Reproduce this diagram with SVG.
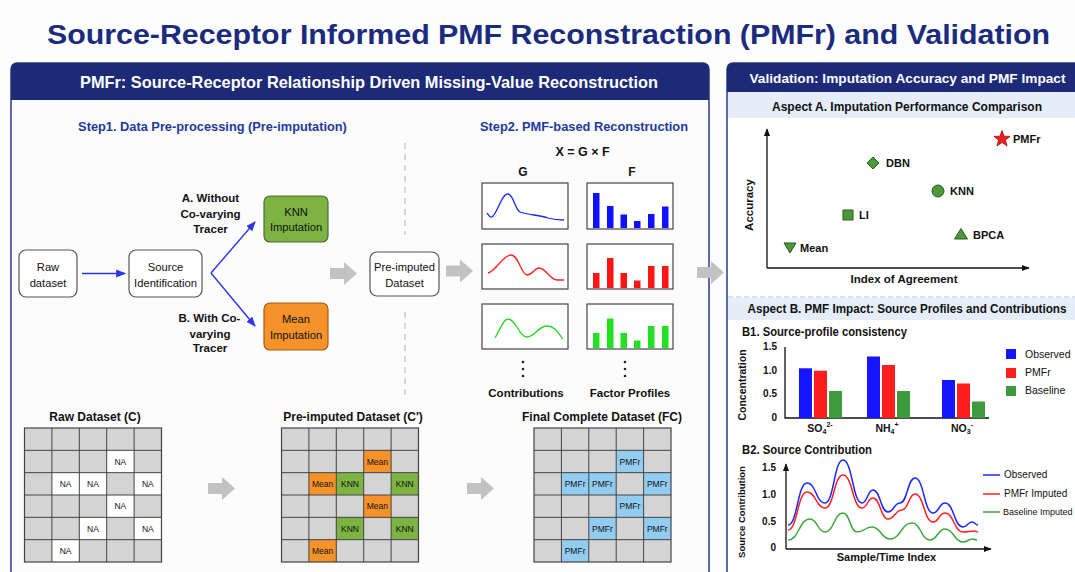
<svg xmlns="http://www.w3.org/2000/svg" xmlns:xlink="http://www.w3.org/1999/xlink" width="1075" height="572" viewBox="0 0 1075 572">
<style>
text{font-family:"Liberation Sans",Arial,sans-serif;fill:#111}
.b{font-weight:bold}
.title{font-size:27px;font-weight:bold;fill:#1b2b7e}
.hdr{font-weight:bold;fill:#fff}
.step{font-size:12.8px;font-weight:bold;fill:#23399a}
.box{fill:#fff;stroke:#555;stroke-width:1.2}
.bt{font-size:11.2px;text-anchor:middle}
.lbl{font-size:11.5px;font-weight:bold;text-anchor:middle}
.garrow{fill:#c2c2c2}
.conn{stroke:#2a35e8;stroke-width:1.4;fill:none}
.frame{fill:#fff;stroke:#444;stroke-width:1.2}
.cell{font-size:8.5px;text-anchor:middle}
.gt{font-size:12px;font-weight:bold;text-anchor:middle}
.axis{stroke:#111;stroke-width:1.3;fill:none}
.tick{font-size:10px;font-weight:bold;text-anchor:end}
.pt{font-size:11px;font-weight:bold}
.mk{fill:#4a9a3a;stroke:#2c5a1e;stroke-width:1}
</style>
<defs>
<marker id="ab" viewBox="0 0 10 10" refX="9" refY="5" markerWidth="7" markerHeight="7" orient="auto-start-reverse"><path d="M0,1 L10,5 L0,9 Z" fill="#2a35e8"/></marker>
<marker id="ak" viewBox="0 0 10 10" refX="9" refY="5" markerWidth="6" markerHeight="6" orient="auto-start-reverse"><path d="M0,1 L10,5 L0,9 Z" fill="#111"/></marker>
<path id="blk" d="M0,6 L14,6 L14,0 L27,11.5 L14,23 L14,17 L0,17 Z"/>
<g id="gl">
<rect x="0" y="0" width="137" height="134" fill="none" stroke="#444" stroke-width="1.2"/>
<path d="M27.4,0V134M54.8,0V134M82.2,0V134M109.6,0V134M0,22.33H137M0,44.67H137M0,67H137M0,89.33H137M0,111.67H137" stroke="#444" stroke-width="1"/>
</g>
</defs>
<rect width="1075" height="572" fill="#fdfdfd"/>
<text class="title" x="548.5" y="44" text-anchor="middle" textLength="1003" lengthAdjust="spacingAndGlyphs">Source-Receptor Informed PMF Reconstraction (PMFr) and Validation</text>

<!-- Left panel -->
<g id="left-panel">
<rect x="11" y="63" width="698" height="540" rx="6" fill="#fcfcfd" stroke="#2a3a8a" stroke-width="1.5"/>
<path d="M11,100 V69 Q11,63 17,63 H703 Q709,63 709,69 V100 Z" fill="#1c2a78"/>
<text class="hdr" x="369" y="88" font-size="17" text-anchor="middle" textLength="578" lengthAdjust="spacingAndGlyphs">PMFr: Source-Receptor Relationship Driven Missing-Value Reconstruction</text>
<text class="step" x="212.5" y="131" text-anchor="middle">Step1. Data Pre-processing (Pre-imputation)</text>
<text class="step" x="584" y="131" text-anchor="middle" textLength="208" lengthAdjust="spacingAndGlyphs">Step2. PMF-based Reconstruction</text>
<path d="M405,143 V235 M405,312 V397" stroke="#bdbdbd" stroke-width="1.2" stroke-dasharray="6 5"/>
</g>

<g id="raw-dataset"><rect class="box" x="19" y="250" width="58" height="47" rx="7"/><text class="bt" x="48" y="271">Raw</text><text class="bt" x="48" y="287">dataset</text></g>
<g id="source-identification"><rect class="box" x="129" y="250" width="73" height="47" rx="7"/><text class="bt" x="165.5" y="271">Source</text><text class="bt" x="165.5" y="287">Identification</text></g>
<g id="knn-imputation"><rect x="264" y="196" width="64" height="46" rx="6" fill="#7cb342" stroke="#4a6b2a" stroke-width="1.2"/><text class="bt" x="296" y="216">KNN</text><text class="bt" x="296" y="231">Imputation</text></g>
<g id="mean-imputation"><rect x="264" y="303" width="64" height="47" rx="6" fill="#f5922a" stroke="#a85a12" stroke-width="1.2"/><text class="bt" x="296" y="323">Mean</text><text class="bt" x="296" y="339">Imputation</text></g>
<g id="pre-imputed-dataset"><rect class="box" x="370" y="252" width="69" height="44" rx="7"/><text class="bt" x="404.5" y="271">Pre-imputed</text><text class="bt" x="404.5" y="287">Dataset</text></g>

<g id="branch-labels">
<text class="lbl" x="210.5" y="202">A. Without</text><text class="lbl" x="210.5" y="218">Co-varying</text><text class="lbl" x="210.5" y="233">Tracer</text>
<text class="lbl" x="209.5" y="322">B. With Co-</text><text class="lbl" x="210" y="338">varying</text><text class="lbl" x="210" y="352">Tracer</text>
</g>

<g id="connectors">
<path class="conn" d="M82,273.5 H125" marker-end="url(#ab)"/>
<path class="conn" d="M211,273 L255,222" marker-end="url(#ab)"/>
<path class="conn" d="M211,273 L255,326" marker-end="url(#ab)"/>
<use href="#blk" class="garrow" x="330" y="262"/>
<use href="#blk" class="garrow" x="446" y="259.5"/>
<use href="#blk" class="garrow" x="697" y="261"/>
<use href="#blk" class="garrow" x="208" y="477"/>
<use href="#blk" class="garrow" x="467" y="477"/>
</g>

<!-- PMF matrices -->
<g id="pmf">
<text class="b" x="582.5" y="156" font-size="12.5" text-anchor="middle">X = G × F</text>
<text class="b" x="523" y="176" font-size="12" text-anchor="middle">G</text>
<text class="b" x="632" y="176" font-size="12" text-anchor="middle">F</text>
<rect class="frame" x="482" y="183" width="86" height="46"/>
<rect class="frame" x="482" y="244" width="86" height="45"/>
<rect class="frame" x="482" y="304" width="86" height="45"/>
<rect class="frame" x="587" y="183" width="86" height="46"/>
<rect class="frame" x="587" y="244" width="86" height="45"/>
<rect class="frame" x="587" y="304" width="86" height="45"/>
<path d="M487,213 C489,216 490,218 492,217 C497,214 502,193 508,194 C514,195 515,210 520,212 C528,215 540,215 548,218 C555,220 560,220 564,220" fill="none" stroke="#1a2aff" stroke-width="1.3"/>
<path d="M488,273 C495,272 503,255 511,255 C519,255 521,275 527,275 C533,275 534,268 539,268 C546,268 550,280 557,280 L564,280" fill="none" stroke="#ff2020" stroke-width="1.3"/>
<path d="M495,338 C500,330 503,319 508,319 C516,319 519,337 527,337 C535,337 538,326 547,326 C555,326 559,334 563,339" fill="none" stroke="#22dd22" stroke-width="1.3"/>
<g fill="#1010ff">
<rect x="593" y="193" width="6.5" height="35"/><rect x="607" y="206" width="6.5" height="22"/><rect x="620.5" y="214.5" width="6.5" height="13.5"/><rect x="634" y="221" width="6.5" height="7"/><rect x="648" y="214" width="6.5" height="14"/><rect x="662" y="206.5" width="6.5" height="21.5"/>
</g>
<g fill="#ff1414">
<rect x="593" y="273" width="6.5" height="15"/><rect x="607" y="258" width="6.5" height="30"/><rect x="620.5" y="273" width="6.5" height="15"/><rect x="634" y="280.5" width="6.5" height="7.5"/><rect x="648" y="266" width="6.5" height="22"/><rect x="662" y="266" width="6.5" height="22"/>
</g>
<g fill="#22e022">
<rect x="593" y="333" width="6.5" height="15"/><rect x="607" y="318.5" width="6.5" height="29.5"/><rect x="620.5" y="333" width="6.5" height="15"/><rect x="634" y="340.5" width="6.5" height="7.5"/><rect x="648" y="326" width="6.5" height="22"/><rect x="662" y="326" width="6.5" height="22"/>
</g>
<g fill="#222"><circle cx="523" cy="362" r="1.3"/><circle cx="523" cy="369" r="1.3"/><circle cx="523" cy="376" r="1.3"/><circle cx="625" cy="362" r="1.3"/><circle cx="625" cy="369" r="1.3"/><circle cx="625" cy="376" r="1.3"/></g>
<text class="b" x="526" y="397" font-size="11.5" text-anchor="middle">Contributions</text>
<text class="b" x="630" y="397" font-size="11.5" text-anchor="middle">Factor Profiles</text>
</g>

<!-- Bottom grids -->
<g id="raw-grid">
<text class="gt" x="95" y="421">Raw Dataset (C)</text>
<g transform="translate(24.5,428)">
<rect width="137" height="134" fill="#d4d4d4"/>
<g fill="#fff"><rect x="82.2" y="22.33" width="27.4" height="22.33"/><rect x="27.4" y="44.67" width="27.4" height="22.33"/><rect x="54.8" y="44.67" width="27.4" height="22.33"/><rect x="109.6" y="44.67" width="27.4" height="22.33"/><rect x="82.2" y="67" width="27.4" height="22.33"/><rect x="54.8" y="89.33" width="27.4" height="22.33"/><rect x="109.6" y="89.33" width="27.4" height="22.33"/><rect x="27.4" y="111.67" width="27.4" height="22.33"/></g>
<use href="#gl"/>
<text x="95.9" y="36.5" class="cell">NA</text><text x="41.1" y="58.8" class="cell">NA</text><text x="68.5" y="58.8" class="cell">NA</text><text x="123.3" y="58.8" class="cell">NA</text><text x="95.9" y="81.2" class="cell">NA</text><text x="68.5" y="103.5" class="cell">NA</text><text x="123.3" y="103.5" class="cell">NA</text><text x="41.1" y="125.8" class="cell">NA</text>
</g>
</g>

<g id="preimputed-grid">
<text class="gt" x="353" y="421">Pre-imputed Dataset (C')</text>
<g transform="translate(281.5,428)">
<rect width="137" height="134" fill="#d4d4d4"/>
<g fill="#f5922a"><rect x="82.2" y="22.33" width="27.4" height="22.33"/><rect x="27.4" y="44.67" width="27.4" height="22.33"/><rect x="82.2" y="67" width="27.4" height="22.33"/><rect x="27.4" y="111.67" width="27.4" height="22.33"/></g>
<g fill="#7cb342"><rect x="54.8" y="44.67" width="27.4" height="22.33"/><rect x="109.6" y="44.67" width="27.4" height="22.33"/><rect x="54.8" y="89.33" width="27.4" height="22.33"/><rect x="109.6" y="89.33" width="27.4" height="22.33"/></g>
<use href="#gl"/>
<text x="95.9" y="36.5" class="cell">Mean</text><text x="41.1" y="58.8" class="cell">Mean</text><text x="68.5" y="58.8" class="cell">KNN</text><text x="123.3" y="58.8" class="cell">KNN</text><text x="95.9" y="81.2" class="cell">Mean</text><text x="68.5" y="103.5" class="cell">KNN</text><text x="123.3" y="103.5" class="cell">KNN</text><text x="41.1" y="125.8" class="cell">Mean</text>
</g>
</g>

<g id="final-grid">
<text class="gt" x="602" y="421">Final Complete Dataset (FC)</text>
<g transform="translate(534,428)">
<rect width="137" height="134" fill="#d4d4d4"/>
<g fill="#92ccf0"><rect x="82.2" y="22.33" width="27.4" height="22.33"/><rect x="27.4" y="44.67" width="27.4" height="22.33"/><rect x="54.8" y="44.67" width="27.4" height="22.33"/><rect x="109.6" y="44.67" width="27.4" height="22.33"/><rect x="82.2" y="67" width="27.4" height="22.33"/><rect x="54.8" y="89.33" width="27.4" height="22.33"/><rect x="109.6" y="89.33" width="27.4" height="22.33"/><rect x="27.4" y="111.67" width="27.4" height="22.33"/></g>
<use href="#gl"/>
<text x="95.9" y="36.5" class="cell">PMFr</text><text x="41.1" y="58.8" class="cell">PMFr</text><text x="68.5" y="58.8" class="cell">PMFr</text><text x="123.3" y="58.8" class="cell">PMFr</text><text x="95.9" y="81.2" class="cell">PMFr</text><text x="68.5" y="103.5" class="cell">PMFr</text><text x="123.3" y="103.5" class="cell">PMFr</text><text x="41.1" y="125.8" class="cell">PMFr</text>
</g>
</g>

<!-- Right panel -->
<g id="right-panel">
<rect x="727" y="63" width="400" height="540" rx="6" fill="#fff" stroke="#2a3a8a" stroke-width="1.5"/>
<path d="M727,92 V69 Q727,63 733,63 H1127 V92 Z" fill="#1c2a78"/>
<text class="hdr" x="907.5" y="83" font-size="13.6" text-anchor="middle" textLength="316" lengthAdjust="spacingAndGlyphs">Validation: Imputation Accuracy and PMF Impact</text>
<rect x="728" y="92" width="347" height="26" fill="#e4edf8"/>
<text class="b" x="907" y="111" font-size="12" text-anchor="middle" textLength="270" lengthAdjust="spacingAndGlyphs">Aspect A. Imputation Performance Comparison</text>
<path d="M728,297 H1075" stroke="#b7c7e0" stroke-width="1.2" stroke-dasharray="5 3"/>
<rect x="728" y="298" width="347" height="22" fill="#e4edf8"/>
<text class="b" x="907" y="313" font-size="12" text-anchor="middle" textLength="319" lengthAdjust="spacingAndGlyphs">Aspect B. PMF Impact: Source Profiles and Contributions</text>
</g>

<g id="scatter">
<path class="axis" d="M767,268 V129" marker-end="url(#ak)"/>
<path class="axis" d="M767,268 H1029" marker-end="url(#ak)"/>
<text class="b" font-size="11.5" text-anchor="middle" transform="translate(753,205) rotate(-90)">Accuracy</text>
<text class="b" x="904" y="283" font-size="11.5" text-anchor="middle">Index of Agreement</text>
<polygon points="1002,130.5 1004.1,136.2 1010.1,136.4 1005.4,140.1 1007,145.9 1002,142.5 997,145.9 998.6,140.1 993.9,136.4 999.9,136.2" fill="#e82020" stroke="#9a1010" stroke-width="0.8"/>
<text class="pt" x="1013" y="143">PMFr</text>
<polygon class="mk" points="873,157 879,163 873,169 867,163"/>
<text class="pt" x="886" y="167">DBN</text>
<circle class="mk" cx="938" cy="191" r="6"/>
<text class="pt" x="950" y="195">KNN</text>
<rect class="mk" x="843" y="210" width="10" height="10"/>
<text class="pt" x="859" y="219">LI</text>
<polygon class="mk" points="961,228.5 967.5,239 954.5,239"/>
<text class="pt" x="973" y="239">BPCA</text>
<polygon class="mk" points="784,243 796,243 790,253"/>
<text class="pt" x="800" y="252">Mean</text>
</g>

<g id="bar-chart">
<text class="b" x="742" y="336" font-size="12" textLength="165" lengthAdjust="spacingAndGlyphs">B1. Source-profile consistency</text>
<path class="axis" d="M785,347 V418 H989"/>
<text class="tick" x="777" y="350">1.5</text><text class="tick" x="777" y="374">1.0</text><text class="tick" x="777" y="397">0.5</text><text class="tick" x="777" y="421">0</text>
<text class="b" font-size="10.5" text-anchor="middle" transform="translate(746,385) rotate(-90)">Concentration</text>
<g fill="#1515ff"><rect x="799" y="368.3" width="13" height="49.7"/><rect x="867" y="356.5" width="13" height="61.5"/><rect x="942" y="380" width="13" height="38"/></g>
<g fill="#ff1e1e"><rect x="814" y="370.7" width="13" height="47.3"/><rect x="882" y="365" width="13" height="53"/><rect x="957" y="383.5" width="13" height="34.5"/></g>
<g fill="#3d9a3d"><rect x="829" y="391" width="13" height="27"/><rect x="897" y="391" width="13" height="27"/><rect x="972" y="401.5" width="13" height="16.5"/></g>
<text class="b" x="820" y="432" font-size="10.5" text-anchor="middle">SO<tspan font-size="7" dy="2">4</tspan><tspan font-size="7" dy="-7">2-</tspan></text>
<text class="b" x="887" y="432" font-size="10.5" text-anchor="middle">NH<tspan font-size="7" dy="2">4</tspan><tspan font-size="7" dy="-7">+</tspan></text>
<text class="b" x="962" y="432" font-size="10.5" text-anchor="middle">NO<tspan font-size="7" dy="2">3</tspan><tspan font-size="7" dy="-7">-</tspan></text>
<rect x="1006" y="349" width="10" height="10" fill="#1515ff"/><rect x="1006" y="368" width="10" height="10" fill="#ff1e1e"/><rect x="1006" y="386" width="10" height="10" fill="#3d9a3d"/>
<text x="1025" y="358" font-size="10.5">Observed</text><text x="1025" y="376" font-size="10.5">PMFr</text><text x="1025" y="394" font-size="10.5">Baseline</text>
</g>

<g id="line-chart">
<text class="b" x="742" y="454" font-size="12" textLength="130" lengthAdjust="spacingAndGlyphs">B2. Source Contribution</text>
<path class="axis" d="M786,549 V464" marker-end="url(#ak)"/>
<path class="axis" d="M786,549 H991" marker-end="url(#ak)"/>
<text class="tick" x="776" y="471">1.5</text><text class="tick" x="776" y="498">1.0</text><text class="tick" x="776" y="525">0.5</text><text class="tick" x="776" y="551">0</text>
<text class="b" font-size="9.5" text-anchor="middle" transform="translate(745,512) rotate(-90)">Source Contribution</text>
<text class="b" x="886.5" y="561" font-size="11" text-anchor="middle">Sample/Time Index</text>
<path d="M788,525 C797.5,525 797.5,483 807,483 C816,483 816,503 825,503 C834,503 834,460 843,460 C852.5,460 852.5,503 862,503 C867.5,503 867.5,490 873,490 C880.5,490 880.5,512 888,512 C894,512 894,503 900,503 C907.5,503 907.5,478 915,478 C924,478 924,513 933,513 C939,513 939,503 945,503 C954,503 954,527 963,527 C967.5,527 967.5,522 972,522 C975,522 975,525 978,525" fill="none" stroke="#1a2aff" stroke-width="1.5"/>
<path d="M788,530 C797.5,530 797.5,492 807,492 C816,492 816,508 825,508 C834,508 834,475 843,475 C852.5,475 852.5,508 862,508 C867.5,508 867.5,498 873,498 C880.5,498 880.5,519 888,519 C895,519 895,510 902,510 C908.5,510 908.5,494 915,494 C924,494 924,522 933,522 C939,522 939,513 945,513 C954,513 954,532 963,532 C969,532 969,531 975,531 C976.5,531 976.5,532 978,532" fill="none" stroke="#ff2020" stroke-width="1.5"/>
<path d="M788,540 C799,540 799,519 810,519 C817.5,519 817.5,532 825,532 C834,532 834,513 843,513 C850,513 850,532 857,532 C864.5,532 864.5,527 872,527 C881,527 881,539 890,539 C901,539 901,523 912,523 C921,523 921,540 930,540 C937.5,540 937.5,529 945,529 C954,529 954,542 963,542 C968,542 968,539 973,539 C975,539 975,540 977,540" fill="none" stroke="#3aa83a" stroke-width="1.5"/>
<path d="M983,475 H1000" stroke="#1a2aff" stroke-width="1.5"/><path d="M983,494 H1000" stroke="#ff2020" stroke-width="1.5"/><path d="M983,512 H1000" stroke="#3aa83a" stroke-width="1.5"/>
<text x="1004" y="478" font-size="10">Observed</text><text x="1004" y="497" font-size="10">PMFr Imputed</text><text x="1003" y="515" font-size="9">Baseline Imputed</text>
</g>
</svg>
